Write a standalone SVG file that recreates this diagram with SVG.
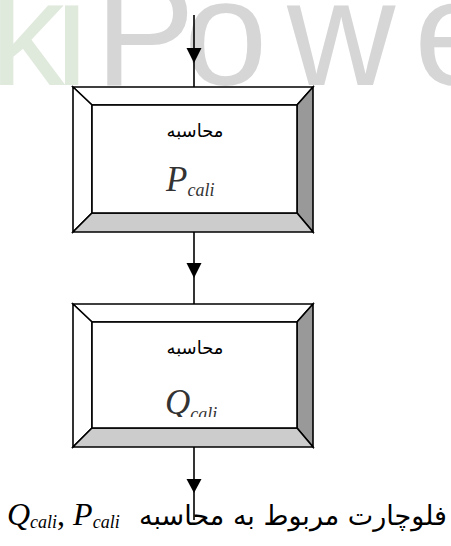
<svg xmlns="http://www.w3.org/2000/svg" width="451" height="546" viewBox="0 0 451 546">
<style>
.wm{font-family:"Liberation Sans",Arial,sans-serif;font-size:150px}
.wmg{fill:#dfe9dc}
.wmk{fill:#d6d6d6}
.edge{stroke:#000;stroke-width:1.6;stroke-linejoin:miter}
.lt{fill:#ffffff}
.dk{fill:#999999}
.md{fill:#cccccc}
.fa{font-family:"DejaVu Sans","Noto Sans",sans-serif;fill:#000}
.math{font-family:"Liberation Serif","Times New Roman",serif;font-style:italic}
.conn{stroke:#000;stroke-width:1.6;fill:none}
.head{fill:#000}
</style>
<defs>
<clipPath id="clipQ"><rect x="92" y="322" width="205" height="95"/></clipPath>
</defs>
<rect width="451" height="546" fill="#fff"/>
<g id="watermark">
<text class="wm" y="85" x="-10 55 95 184 287 414"><tspan class="wmg">ki</tspan><tspan class="wmk">Powe</tspan></text>
</g>
<g id="connectors">
<line class="conn" x1="194" y1="15" x2="194" y2="87"/>
<polygon class="head" points="194,63 186.5,48 201.5,48"/>
<line class="conn" x1="194" y1="232" x2="194" y2="304"/>
<polygon class="head" points="194,278 186.5,263 201.5,263"/>
<line class="conn" x1="194" y1="447" x2="194" y2="520"/>
<polygon class="head" points="194,493 186.5,479 201.5,479"/>
</g>
<g id="node-p">
<polygon class="lt edge" points="73,87 313,87 297,105 92,105"/>
<polygon class="lt edge" points="73,87 92,105 92,213 73,232"/>
<polygon class="dk edge" points="313,87 313,232 297,213 297,105"/>
<polygon class="md edge" points="73,232 313,232 297,213 92,213"/>
<rect class="lt edge" x="92" y="105" width="205" height="108"/>
<text class="fa" x="195" y="137" font-size="18" text-anchor="middle">محاسبه</text>
<text class="math" x="166" y="191" fill="#333" font-size="35">P<tspan font-size="18" dy="5">cali</tspan></text>
</g>
<g id="node-q">
<polygon class="lt edge" points="73,304 313,304 297,322 92,322"/>
<polygon class="lt edge" points="73,304 92,322 92,428 73,447"/>
<polygon class="dk edge" points="313,304 313,447 297,428 297,322"/>
<polygon class="md edge" points="73,447 313,447 297,428 92,428"/>
<rect class="lt edge" x="92" y="322" width="205" height="106"/>
<text class="fa" x="195" y="354" font-size="18" text-anchor="middle">محاسبه</text>
<g clip-path="url(#clipQ)">
<text class="math" x="165" y="414" fill="#333" font-size="35">Q<tspan font-size="18" dy="6">cali</tspan></text>
</g>
</g>
<g id="caption">
<text class="math" x="7" y="525" font-size="32">Q<tspan font-size="18" dy="3">cali</tspan><tspan font-style="normal" font-size="32" dy="-3">, </tspan>P<tspan font-size="18" dy="3">cali</tspan></text>
<text class="fa" x="447" y="525" font-size="27" text-anchor="end">فلوچارت مربوط به محاسبه</text>
</g>
</svg>
